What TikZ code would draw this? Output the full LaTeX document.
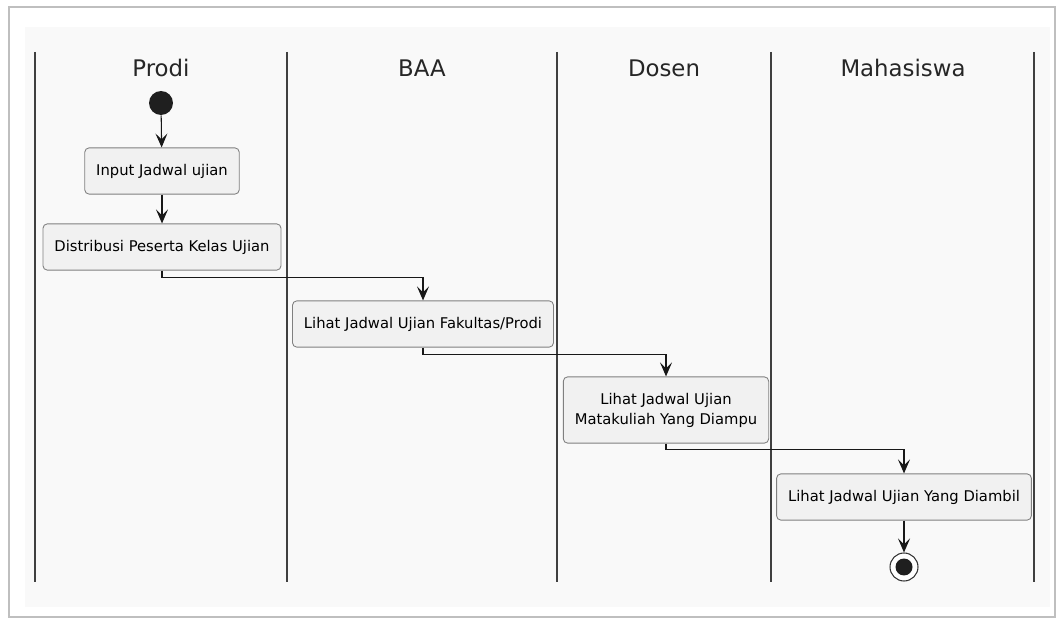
\documentclass[tikz,border=0pt]{standalone}
\usepackage{fontspec}
\setmainfont{DejaVu Sans}
\usetikzlibrary{arrows.meta, positioning}

\definecolor{bgumum}{HTML}{F9F9F9}
\definecolor{isiblok}{HTML}{F1F1F1}
\definecolor{garis}{HTML}{181818}

\begin{document}
\begin{tikzpicture}[x=0.02cm, y=-0.02cm,
						font=\fontsize{8.4}{11.4}\selectfont,
						block/.style = {rectangle, draw=black!50, fill=isiblok, rounded corners=2.5pt,
										line width=0.5pt, align=center, text centered,
										inner xsep=0.23cm, inner ysep=0.32cm},
						lane/.style = {draw=black!75, line width=1.1pt},
						lanetitle/.style = {font=\fontsize{13}{15}\selectfont, text=black!85},
						startnode/.style = {circle, fill=black!88, minimum size=0.48cm, inner sep=0pt},
						endnode/.style = {circle, draw=black!80, fill=white, line width=0.6pt,
										minimum size=0.56cm, inner sep=0pt,
										path picture={\fill[black!88] (path picture bounding box.center) circle (0.17cm);}},
						line/.style = {draw=garis, line width=0.6pt, -{Stealth[length=2.8mm, width=2.4mm, inset=1.2mm]}}
						]

						\useasboundingbox (0,0) rectangle (1059,621);
						% --- Latar ---
						\draw[black!25, fill=white, line width=0.8pt] (9,7) rectangle (1055,617);
						\fill[bgumum] (25,27) rectangle (1050,607);

						% --- Swimlane ---
						\foreach \xl in {35, 287, 557, 771, 1034}
							\draw[lane] (\xl,52) -- (\xl,582);
						\node[lanetitle] (tprodi) at (161,68) {Prodi};
						\node[lanetitle] (tbaa) at (422,68) {BAA};
						\node[lanetitle] (tdosen) at (664,68) {Dosen};
						\node[lanetitle] (tmhs) at (903,68) {Mahasiswa};

						% --- Aktivitas ---
						\node[startnode] (start) at (161,103) {};
						\node[block] (input) at (162,171) {Input Jadwal ujian};
						\node[block] (distribusi) at (162,247) {Distribusi Peserta Kelas Ujian};
						\node[block] (lihatbaa) at (423,324) {Lihat Jadwal Ujian Fakultas/Prodi};
						\node[block] (lihatdosen) at (666,410) {Lihat Jadwal Ujian\\Matakuliah Yang Diampu};
						\node[block] (lihatmhs) at (904,497) {Lihat Jadwal Ujian Yang Diambil};
						\node[endnode] (stop) at (904,567) {};

						% --- Panah ---
						\draw[line] (start) -- (input);
						\draw[line] (input) -- (distribusi);
						\draw[line] (distribusi.south) -- ++(0,7) -| (lihatbaa.north);
						\draw[line] (lihatbaa.south) -- ++(0,7) -| (lihatdosen.north);
						\draw[line] (lihatdosen.south) -- ++(0,6) -| (lihatmhs.north);
						\draw[line] (lihatmhs) -- (stop);

					\end{tikzpicture}
\end{document}
